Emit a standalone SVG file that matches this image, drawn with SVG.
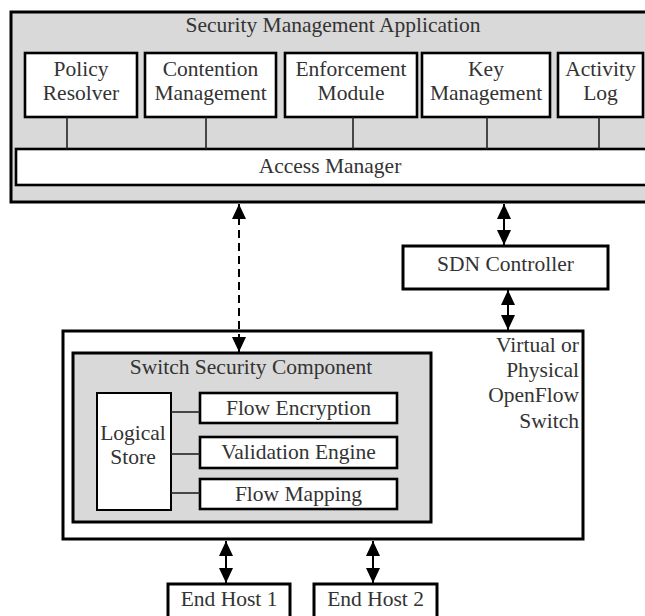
<svg xmlns="http://www.w3.org/2000/svg" width="645" height="616" viewBox="0 0 645 616">
  <defs>
    <marker id="head" viewBox="0 0 15 14" refX="15" refY="7" markerWidth="15" markerHeight="14" markerUnits="userSpaceOnUse" orient="auto-start-reverse">
      <path d="M0,0 L15,7 L0,14 Z" fill="#000"/>
    </marker>
    <style>
      .t { font-family: "Liberation Serif", "Times New Roman", serif; font-size: 21.5px; fill: #333; }
      .c { text-anchor: middle; }
      .r { text-anchor: end; }
      .panel { fill: #d9d9d9; stroke: #000; stroke-width: 3; }
      .frame { fill: #fff; stroke: #000; stroke-width: 3; }
      .box { fill: #fff; stroke: #000; stroke-width: 2.6; }
      .thin { fill: #fff; stroke: #000; stroke-width: 2; }
      .link { stroke: #222; stroke-width: 1.6; fill: none; }
      .arrow { stroke: #000; stroke-width: 2; fill: none; marker-start: url(#head); marker-end: url(#head); }
      .dashed { stroke-dasharray: 8 5; }
    </style>
  </defs>

  <rect width="645" height="616" fill="#fff"/>

  <!-- Security Management Application -->
  <g id="security-management-application">
    <rect class="panel" x="11" y="12" width="660" height="190"/>
    <text class="t c" x="333" y="32">Security Management Application</text>
  </g>

  <g id="policy-resolver">
    <rect class="box" x="25" y="53" width="112" height="64"/>
    <text class="t c" x="81" y="76">Policy</text>
    <text class="t c" x="81" y="100">Resolver</text>
  </g>
  <g id="contention-management">
    <rect class="box" x="145" y="53" width="131" height="64"/>
    <text class="t c" x="210.5" y="76">Contention</text>
    <text class="t c" x="210.5" y="100">Management</text>
  </g>
  <g id="enforcement-module">
    <rect class="box" x="285" y="53" width="132" height="64"/>
    <text class="t c" x="351" y="76">Enforcement</text>
    <text class="t c" x="351" y="100">Module</text>
  </g>
  <g id="key-management">
    <rect class="box" x="422" y="53" width="128" height="64"/>
    <text class="t c" x="486" y="76">Key</text>
    <text class="t c" x="486" y="100">Management</text>
  </g>
  <g id="activity-log">
    <rect class="box" x="558" y="53" width="85" height="64"/>
    <text class="t c" x="600.5" y="76">Activity</text>
    <text class="t c" x="600.5" y="100">Log</text>
  </g>
  <g id="access-manager">
    <rect class="box" x="16" y="149" width="640" height="36"/>
    <text class="t c" x="330" y="173">Access Manager</text>
  </g>

  <!-- SDN Controller -->
  <g id="sdn-controller">
    <rect class="frame" x="403" y="246" width="205" height="43"/>
    <text class="t c" x="505.5" y="271">SDN Controller</text>
  </g>

  <!-- Virtual or Physical OpenFlow Switch -->
  <g id="openflow-switch">
    <rect class="frame" x="63" y="331" width="520" height="208"/>
    <text class="t r" x="579" y="352">Virtual or</text>
    <text class="t r" x="579" y="377">Physical</text>
    <text class="t r" x="579" y="402">OpenFlow</text>
    <text class="t r" x="579" y="428">Switch</text>
  </g>

  <g id="switch-security-component">
    <rect class="panel" x="73" y="353" width="358" height="169"/>
    <text class="t c" x="251" y="374">Switch Security Component</text>
  </g>
  <g id="logical-store">
    <rect class="thin" x="97" y="393" width="74" height="117"/>
    <text class="t c" x="133" y="440">Logical</text>
    <text class="t c" x="133" y="464">Store</text>
  </g>
  <g id="flow-encryption">
    <rect class="box" x="200" y="393" width="197" height="30"/>
    <text class="t c" x="298.5" y="415">Flow Encryption</text>
  </g>
  <g id="validation-engine">
    <rect class="box" x="200" y="437" width="197" height="31"/>
    <text class="t c" x="298.5" y="459">Validation Engine</text>
  </g>
  <g id="flow-mapping">
    <rect class="box" x="200" y="479" width="197" height="30"/>
    <text class="t c" x="298.5" y="501">Flow Mapping</text>
  </g>

  <!-- End hosts (boxes run off the lower edge) -->
  <g id="end-host-1">
    <rect class="frame" x="168" y="584" width="122" height="40"/>
    <text class="t c" x="229" y="606">End Host 1</text>
  </g>
  <g id="end-host-2">
    <rect class="frame" x="314" y="584" width="123" height="40"/>
    <text class="t c" x="375.5" y="606">End Host 2</text>
  </g>

  <!-- Connectors -->
  <g id="connectors">
    <line class="link" x1="67" y1="117" x2="67" y2="149"/>
    <line class="link" x1="206" y1="117" x2="206" y2="149"/>
    <line class="link" x1="353" y1="117" x2="353" y2="149"/>
    <line class="link" x1="487" y1="117" x2="487" y2="149"/>
    <line class="link" x1="599" y1="117" x2="599" y2="149"/>

    <line class="link" x1="171" y1="412" x2="200" y2="412"/>
    <line class="link" x1="171" y1="454" x2="200" y2="454"/>
    <line class="link" x1="171" y1="493" x2="200" y2="493"/>

    <line class="arrow dashed" x1="239" y1="204" x2="239" y2="352"/>
    <line class="arrow" x1="504" y1="204" x2="504" y2="245"/>
    <line class="arrow" x1="508" y1="290" x2="508" y2="330"/>
    <line class="arrow" x1="226" y1="541" x2="226" y2="583"/>
    <line class="arrow" x1="373" y1="541" x2="373" y2="583"/>
  </g>
</svg>
